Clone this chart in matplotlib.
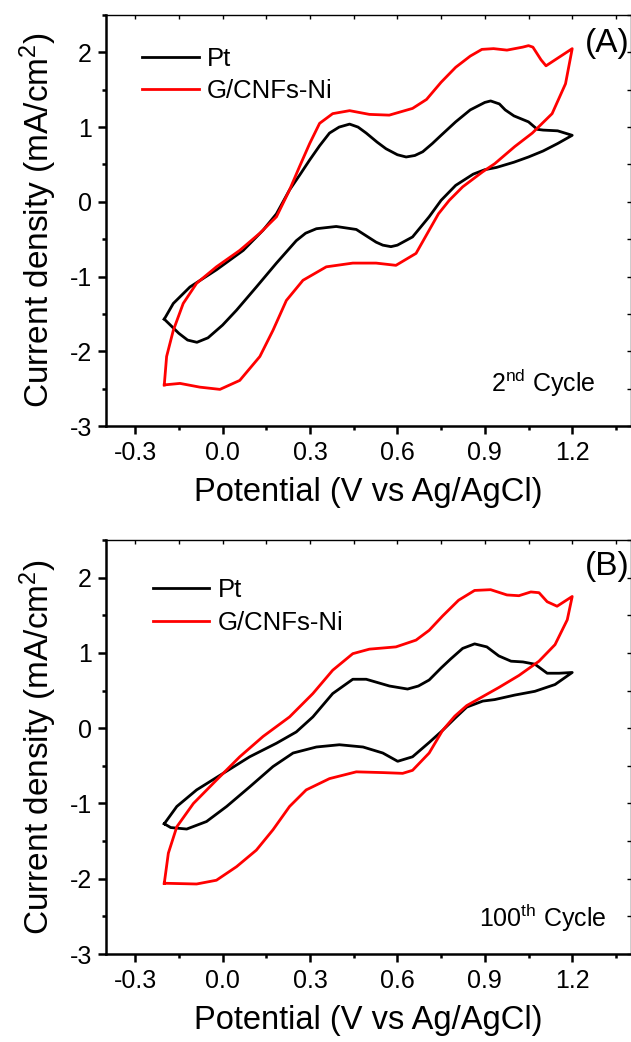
import matplotlib
matplotlib.use("Agg")
import matplotlib.pyplot as plt
from matplotlib.ticker import FixedLocator, MultipleLocator

plt.rcParams['font.family'] = ['Liberation Sans', 'DejaVu Sans']
plt.rcParams['mathtext.fontset'] = 'custom'
plt.rcParams['mathtext.rm'] = 'Liberation Sans'
plt.rcParams['mathtext.it'] = 'Liberation Sans:italic'
plt.rcParams['axes.unicode_minus'] = False

# ---------------- data ----------------
x_ticks = [-0.3, 0.0, 0.3, 0.6, 0.9, 1.2]
x_tick_labels = ["-0.3", "0.0", "0.3", "0.6", "0.9", "1.2"]
y_ticks = [-3, -2, -1, 0, 1, 2]
y_tick_labels = ["-3", "-2", "-1", "0", "1", "2"]
series_names = ["Pt", "G/CNFs-Ni"]

# Panel A (2nd cycle) - Pt  (anodic sweep then cathodic sweep)
a_pt_x = [-0.2, -0.169, -0.112, -0.021, 0.071, 0.139, 0.185, 0.23, 0.265, 0.299, 0.333,
          0.367, 0.4, 0.436, 0.465, 0.493, 0.53, 0.561, 0.6, 0.63, 0.66, 0.687, 0.72, 0.75,
          0.8, 0.85, 0.9, 0.92, 0.95, 0.97, 1.0, 1.05, 1.08, 1.1, 1.15, 1.2,
          1.15, 1.1, 1.05, 1.0, 0.94, 0.9, 0.86, 0.8, 0.75, 0.709, 0.652, 0.6, 0.578, 0.55,
          0.527, 0.459, 0.39, 0.322, 0.285, 0.253, 0.185, 0.116, 0.048, 0.0, -0.05,
          -0.088, -0.12, -0.15, -0.2]
a_pt_y = [-1.57, -1.36, -1.14, -0.91, -0.65, -0.38, -0.16, 0.16, 0.36, 0.56, 0.75, 0.92,
          1.0, 1.04, 1.0, 0.92, 0.8, 0.71, 0.63, 0.6, 0.62, 0.67, 0.78, 0.89, 1.07, 1.23,
          1.33, 1.35, 1.31, 1.23, 1.15, 1.07, 0.97, 0.96, 0.95, 0.89,
          0.78, 0.68, 0.6, 0.53, 0.46, 0.43, 0.37, 0.22, 0.02, -0.2, -0.47, -0.58, -0.6,
          -0.58, -0.54, -0.37, -0.33, -0.36, -0.42, -0.52, -0.82, -1.14, -1.45, -1.65,
          -1.82, -1.88, -1.85, -1.76, -1.57]

# Panel A (2nd cycle) - G/CNFs-Ni
a_ni_x = [-0.2, -0.192, -0.169, -0.135, -0.089, -0.021, 0.059, 0.128, 0.185, 0.23, 0.264,
          0.299, 0.333, 0.378, 0.436, 0.504, 0.572, 0.652, 0.7, 0.75, 0.8, 0.85, 0.89,
          0.93, 0.976, 1.03, 1.05, 1.065, 1.093, 1.11, 1.2,
          1.177, 1.131, 1.063, 1.003, 0.934, 0.892, 0.824, 0.778, 0.741, 0.709, 0.664,
          0.595, 0.527, 0.447, 0.356, 0.276, 0.219, 0.173, 0.128, 0.059, -0.009, -0.078,
          -0.146, -0.2]
a_ni_y = [-2.45, -2.07, -1.72, -1.36, -1.09, -0.87, -0.65, -0.42, -0.2, 0.16, 0.47, 0.78,
          1.05, 1.18, 1.22, 1.17, 1.16, 1.25, 1.37, 1.6, 1.8, 1.95, 2.04, 2.05, 2.03, 2.07,
          2.09, 2.07, 1.9, 1.82, 2.05,
          1.58, 1.18, 0.92, 0.74, 0.51, 0.4, 0.2, 0.02, -0.16, -0.38, -0.69, -0.85, -0.82,
          -0.82, -0.87, -1.05, -1.32, -1.72, -2.07, -2.39, -2.51, -2.48, -2.43, -2.45]

# Panel B (100th cycle) - Pt
b_pt_x = [-0.2, -0.157, -0.089, 0.002, 0.093, 0.185, 0.253, 0.31, 0.378, 0.447, 0.493,
          0.573, 0.635, 0.672, 0.709, 0.75, 0.783, 0.824, 0.865, 0.907, 0.948, 0.99, 1.031,
          1.072, 1.114, 1.155, 1.2,
          1.141, 1.072, 1.003, 0.934, 0.893, 0.838, 0.797, 0.755, 0.709, 0.652, 0.601,
          0.55, 0.482, 0.401, 0.322, 0.242, 0.173, 0.093, 0.014, -0.055, -0.123, -0.178,
          -0.2]
b_pt_y = [-1.27, -1.04, -0.82, -0.6, -0.38, -0.2, -0.05, 0.15, 0.46, 0.65, 0.65, 0.56,
          0.52, 0.56, 0.64, 0.8, 0.92, 1.06, 1.12, 1.08, 0.96, 0.89, 0.88, 0.85, 0.73, 0.73,
          0.74,
          0.58, 0.49, 0.44, 0.38, 0.36, 0.28, 0.13, -0.03, -0.19, -0.38, -0.44, -0.33,
          -0.25, -0.22, -0.25, -0.33, -0.51, -0.78, -1.04, -1.24, -1.34, -1.32, -1.27]

# Panel B (100th cycle) - G/CNFs-Ni
b_ni_x = [-0.2, -0.186, -0.157, -0.1, -0.021, 0.059, 0.139, 0.23, 0.31, 0.378, 0.447,
          0.504, 0.595, 0.664, 0.709, 0.755, 0.81, 0.865, 0.92, 0.976, 1.017, 1.058, 1.086,
          1.114, 1.148, 1.2,
          1.183, 1.141, 1.086, 1.017, 0.948, 0.893, 0.838, 0.797, 0.755, 0.709, 0.652,
          0.618, 0.55, 0.459, 0.367, 0.287, 0.23, 0.173, 0.116, 0.048, -0.021, -0.089,
          -0.2]
b_ni_y = [-2.06, -1.66, -1.31, -1.0, -0.69, -0.38, -0.11, 0.15, 0.46, 0.77, 0.99, 1.05,
          1.08, 1.17, 1.3, 1.49, 1.7, 1.83, 1.84, 1.77, 1.76, 1.81, 1.8, 1.68, 1.62, 1.75,
          1.44, 1.11, 0.89, 0.7, 0.54, 0.42, 0.3, 0.16, -0.03, -0.33, -0.56, -0.6, -0.59,
          -0.58, -0.67, -0.82, -1.04, -1.35, -1.62, -1.84, -2.02, -2.07, -2.06]

panels = [
    dict(pt=(a_pt_x, a_pt_y), ni=(a_ni_x, a_ni_y), tag="(A)",
         cycle=r"2$^{\mathrm{nd}}$ Cycle", leg=(0.069, 0.923), tagpos=(0.998, 0.93),
         cyc=(0.934, 0.105)),
    dict(pt=(b_pt_x, b_pt_y), ni=(b_ni_x, b_ni_y), tag="(B)",
         cycle=r"100$^{\mathrm{th}}$ Cycle", leg=(0.089, 0.908), tagpos=(0.998, 0.937),
         cyc=(0.955, 0.087)),
]

# ---------------- figure ----------------
W, H = 631, 1042
fig = plt.figure(figsize=(W / 100, H / 100), dpi=100)
boxes = [(106, 15, 630.5, 426), (106, 540, 630.5, 954)]  # left, top, right, bottom px

for (l, t, r, b), p in zip(boxes, panels):
    ax = fig.add_axes([l / W, 1 - b / H, (r - l) / W, (b - t) / H])
    ax.plot(*p["pt"], color="black", lw=2.0, label=series_names[0],
            solid_joinstyle="round")
    ax.plot(*p["ni"], color="#ff0000", lw=2.0, label=series_names[1],
            solid_joinstyle="round")
    ax.set_xlim(-0.4, 1.4)
    ax.set_ylim(-3, 2.5)

    ax.xaxis.set_major_locator(FixedLocator(x_ticks))
    ax.set_xticklabels(x_tick_labels)
    ax.xaxis.set_minor_locator(MultipleLocator(0.15))
    ax.yaxis.set_major_locator(FixedLocator(y_ticks))
    ax.set_yticklabels(y_tick_labels)
    ax.yaxis.set_minor_locator(MultipleLocator(0.5))

    for s in ["left", "bottom"]:
        ax.spines[s].set_linewidth(1.8)
    for s in ["top", "right"]:
        ax.spines[s].set_linewidth(1.0)

    ax.tick_params(axis="both", which="major", direction="out", length=6, width=1.8,
                   labelsize=18)
    ax.tick_params(axis="x", which="major", pad=4.5)
    ax.tick_params(axis="y", which="major", pad=4)
    ax.tick_params(axis="both", which="minor", direction="out", length=3, width=1.8)
    ax.tick_params(top=True, right=True, which="both")
    for tk in ax.xaxis.get_major_ticks() + ax.xaxis.get_minor_ticks():
        tk.tick2line.set_marker(3)
        tk.tick2line.set_markersize(3)
        tk.tick2line.set_markeredgewidth(1.0)
    for tk in ax.yaxis.get_major_ticks() + ax.yaxis.get_minor_ticks():
        tk.tick2line.set_marker(0)
        tk.tick2line.set_markersize(3)
        tk.tick2line.set_markeredgewidth(1.0)

    ax.set_xlabel("Potential (V vs Ag/AgCl)", fontsize=23.5, labelpad=9)
    ax.set_ylabel(r"Current density (mA/cm$^{2}$)", fontsize=24, labelpad=8)

    ax.legend(loc="upper left", bbox_to_anchor=p["leg"], frameon=False,
              fontsize=18.5, handlelength=2.2, handletextpad=0.32,
              labelspacing=0.34, borderpad=0, borderaxespad=0)
    ax.text(*p["tagpos"], p["tag"], transform=ax.transAxes, ha="right", va="center",
            fontsize=24)
    ax.text(*p["cyc"], p["cycle"], transform=ax.transAxes, ha="right", va="center",
            fontsize=18)

fig.savefig("out.png", dpi=100)
